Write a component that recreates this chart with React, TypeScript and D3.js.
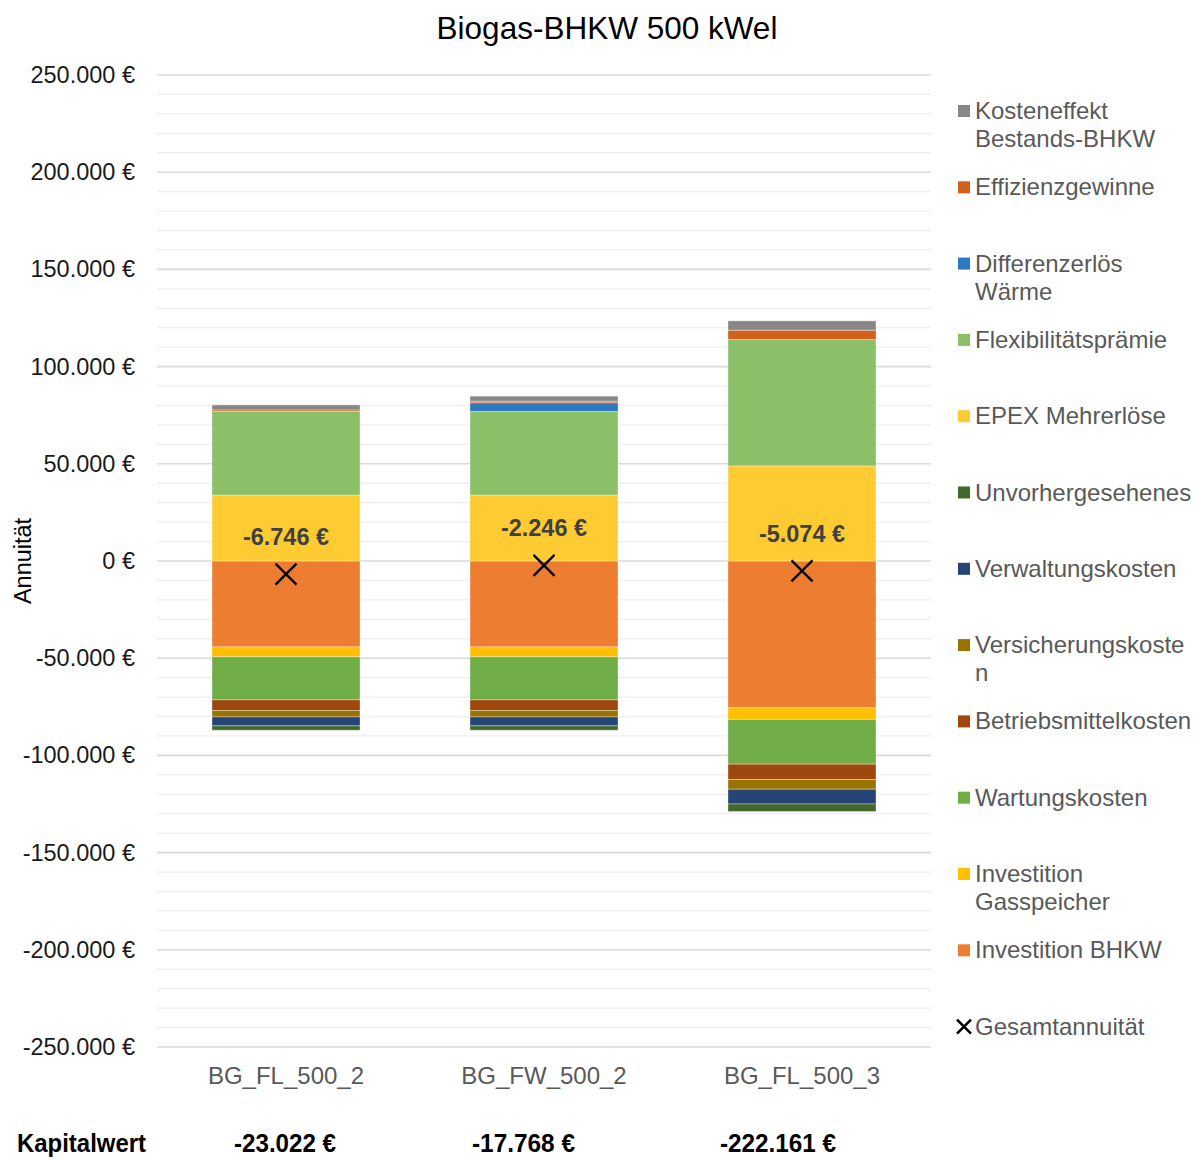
import React, { useEffect, useRef } from "react";
import * as d3 from "d3";

const categories = ["BG_FL_500_2", "BG_FW_500_2", "BG_FL_500_3"];

// cost side (negative), stacked downward from zero
const investBHKW = [-44200, -44200, -75500];
const investGasspeicher = [-5100, -5100, -6000];
const wartungskosten = [-22100, -22100, -23000];
const betriebsmittelkosten = [-5500, -5500, -7900];
const versicherungskosten = [-3300, -3300, -5000];
const verwaltungskosten = [-4600, -4600, -7600];
const unvorhergesehenes = [-2246, -2246, -3874];

// revenue side (positive), stacked upward from zero
const epexMehrerloese = [33900, 33900, 48900];
const flexpraemie = [43000, 43000, 65026];
const differenzerloes = [0, 4500, 0];
const effizienzgewinne = [800, 800, 4800];
const kosteneffekt = [2600, 2600, 4800];

const gesamtannuitaet = [-6746, -2246, -5074];
const gesamtLabels = ["-6.746 €", "-2.246 €", "-5.074 €"];
const kapitalwerte = ["-23.022 €", "-17.768 €", "-222.161 €"];

const yTicks = [-250000, -200000, -150000, -100000, -50000, 0, 50000, 100000, 150000, 200000, 250000];

// series in stacking order; legend shows them reversed
const series = [
  { key: "bhkw", name: ["Investition BHKW"], values: investBHKW, color: "#ED7D31" },
  { key: "gas", name: ["Investition", "Gasspeicher"], values: investGasspeicher, color: "#FFC000" },
  { key: "wart", name: ["Wartungskosten"], values: wartungskosten, color: "#70AD47" },
  { key: "betr", name: ["Betriebsmittelkosten"], values: betriebsmittelkosten, color: "#9E480E" },
  { key: "vers", name: ["Versicherungskoste", "n"], values: versicherungskosten, color: "#997300" },
  { key: "verw", name: ["Verwaltungskosten"], values: verwaltungskosten, color: "#264478" },
  { key: "unv", name: ["Unvorhergesehenes"], values: unvorhergesehenes, color: "#43682B" },
  { key: "epex", name: ["EPEX Mehrerlöse"], values: epexMehrerloese, color: "#FFCB33" },
  { key: "flex", name: ["Flexibilitätsprämie"], values: flexpraemie, color: "#8CC068" },
  { key: "diff", name: ["Differenzerlös", "Wärme"], values: differenzerloes, color: "#2E78C2" },
  { key: "eff", name: ["Effizienzgewinne"], values: effizienzgewinne, color: "#D2601A" },
  { key: "kost", name: ["Kosteneffekt", "Bestands-BHKW"], values: kosteneffekt, color: "#878787" },
];

const width = 1200;
const height = 1160;
const plot = { left: 157, right: 931, top: 75, bottom: 1047 };
const font = "Arial, 'Liberation Sans', sans-serif";

const locale = d3.formatLocale({
  decimal: ",",
  thousands: ".",
  grouping: [3],
  currency: ["", " €"],
  minus: "-",
});
const fmt = (v: number) => locale.format(",")(v) + " €";

const App = () => {
  const ref = useRef<SVGSVGElement>(null);

  useEffect(() => {
    document.body.style.margin = "0";
    drawChart();
  }, []);

  const drawChart = () => {
    const svg = d3.select(ref.current);
    svg.selectAll("*").remove();
    svg.attr("font-family", font);

    const y = d3.scaleLinear().domain([-250000, 250000]).range([plot.bottom, plot.top]);
    const x = d3.scaleBand().domain(categories).range([plot.left, plot.right]).padding(0);
    const barW = x.bandwidth() * (148 / 258);

    // gridlines: minor every 10.000, major every 50.000
    const minor = d3.range(-250000, 250001, 10000).filter((v) => v % 50000 !== 0);
    svg
      .append("g")
      .selectAll("line")
      .data(minor)
      .join("line")
      .attr("x1", plot.left)
      .attr("x2", plot.right)
      .attr("y1", (d) => y(d))
      .attr("y2", (d) => y(d))
      .attr("stroke", "#efefef")
      .attr("stroke-width", 1.3);
    svg
      .append("g")
      .selectAll("line")
      .data(yTicks)
      .join("line")
      .attr("x1", plot.left)
      .attr("x2", plot.right)
      .attr("y1", (d) => y(d))
      .attr("y2", (d) => y(d))
      .attr("stroke", "#d9d9d9")
      .attr("stroke-width", 1.6);

    // y axis
    const yAxis = d3.axisLeft(y).tickValues(yTicks).tickFormat((d) => fmt(d as number)).tickSize(0).tickPadding(22);
    const ya = svg.append("g").attr("transform", `translate(${plot.left},0)`).call(yAxis);
    ya.select(".domain").remove();
    ya.selectAll("text")
      .attr("font-size", 23.5)
      .attr("font-family", font)
      .attr("fill", "#1a1a1a");

    svg
      .append("text")
      .attr("transform", "translate(31,561) rotate(-90)")
      .attr("text-anchor", "middle")
      .attr("font-size", 23.5)
      .attr("fill", "#000")
      .text("Annuität");

    // category axis
    const xAxis = d3.axisBottom(x).tickSize(0).tickPadding(20);
    const xa = svg.append("g").attr("transform", `translate(0,${plot.bottom})`).call(xAxis);
    xa.select(".domain").remove();
    xa.selectAll("text").attr("font-size", 24).attr("font-family", font).attr("fill", "#595959");

    // stacked bars
    const rows = categories.map((c, i) => {
      const r: any = { cat: c };
      series.forEach((s) => (r[s.key] = s.values[i]));
      return r;
    });
    const stack = d3
      .stack()
      .keys(series.map((s) => s.key))
      .offset(d3.stackOffsetDiverging)(rows);

    const layers = svg
      .append("g")
      .selectAll("g")
      .data(stack)
      .join("g")
      .attr("fill", (_, i) => series[i].color);
    layers
      .selectAll("rect")
      .data((d) => d)
      .join("rect")
      .attr("x", (d: any) => (x(d.data.cat) as number) + (x.bandwidth() - barW) / 2)
      .attr("width", barW)
      .attr("y", (d) => y(Math.max(d[0], d[1])))
      .attr("height", (d) => Math.abs(y(d[0]) - y(d[1])))
      .attr("stroke", "rgba(255,255,255,0.35)")
      .attr("stroke-width", 1);

    // total annuity markers and labels
    const cx = (i: number) => (x(categories[i]) as number) + x.bandwidth() / 2;
    const mk = svg.append("g");
    gesamtannuitaet.forEach((v, i) => {
      const px = cx(i);
      const py = y(v);
      const r = 10.5;
      mk.append("path")
        .attr("d", `M${px - r},${py - r}L${px + r},${py + r}M${px - r},${py + r}L${px + r},${py - r}`)
        .attr("stroke", "#000")
        .attr("stroke-width", 2.3)
        .attr("fill", "none");
      mk.append("text")
        .attr("x", px)
        .attr("y", py - 29)
        .attr("text-anchor", "middle")
        .attr("font-size", 23.5)
        .attr("font-weight", "bold")
        .attr("fill", "#404040")
        .text(gesamtLabels[i]);
    });

    // title
    svg
      .append("text")
      .attr("x", 607)
      .attr("y", 39)
      .attr("text-anchor", "middle")
      .attr("font-size", 31.5)
      .attr("fill", "#000")
      .text("Biogas-BHKW 500 kWel");

    // legend
    const legendItems = [...series].reverse();
    const lg = svg.append("g");
    const step = 76.3;
    legendItems.forEach((s, i) => {
      const cy = 111 + i * step;
      lg.append("rect")
        .attr("x", 958)
        .attr("y", cy - 6)
        .attr("width", 12)
        .attr("height", 12)
        .attr("fill", s.color);
      const t = lg
        .append("text")
        .attr("x", 975)
        .attr("y", cy + 8)
        .attr("font-size", 24)
        .attr("fill", "#595959");
      s.name.forEach((line, j) => {
        t.append("tspan").attr("x", 975).attr("dy", j === 0 ? 0 : 28).text(line);
      });
    });
    const gy = 111 + legendItems.length * step;
    lg.append("path")
      .attr("d", `M${957},${gy - 7}L${971},${gy + 7}M${957},${gy + 7}L${971},${gy - 7}`)
      .attr("stroke", "#000")
      .attr("stroke-width", 2.6);
    lg.append("text")
      .attr("x", 975)
      .attr("y", gy + 8)
      .attr("font-size", 24)
      .attr("fill", "#595959")
      .text("Gesamtannuität");

    // Kapitalwert row below the chart
    const kx = [234, 472, 720];
    const kw = [102, 103, 116];
    const baseY = 1152;
    svg
      .append("text")
      .attr("x", 17)
      .attr("y", baseY)
      .attr("font-size", 25)
      .attr("font-weight", "bold")
      .attr("textLength", 129)
      .attr("lengthAdjust", "spacingAndGlyphs")
      .attr("fill", "#000")
      .text("Kapitalwert");
    kapitalwerte.forEach((k, i) => {
      svg
        .append("text")
        .attr("x", kx[i])
        .attr("y", baseY)
        .attr("font-size", 25)
        .attr("font-weight", "bold")
        .attr("textLength", kw[i])
        .attr("lengthAdjust", "spacingAndGlyphs")
        .attr("fill", "#000")
        .text(k);
    });
  };

  return <svg ref={ref} width={width} height={height} style={{ display: "block" }} />;
};

export default App;
